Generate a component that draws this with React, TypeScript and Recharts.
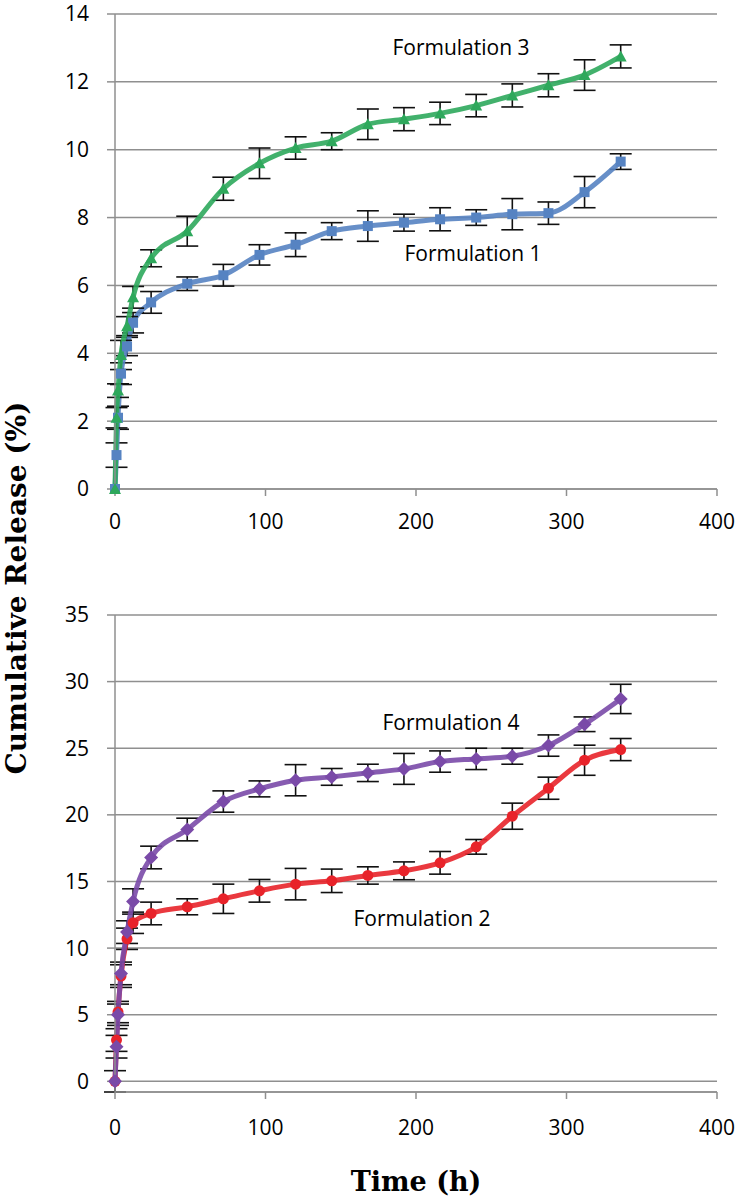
import React from "react";
import { LineChart, Line, XAxis, YAxis, CartesianGrid, ErrorBar } from "recharts";

const times = [0, 1, 2, 4, 8, 12, 24, 48, 72, 96, 120, 144, 168, 192, 216, 240, 264, 288, 312, 336];

const f1 = [0, 1.0, 2.1, 3.4, 4.2, 4.9, 5.5, 6.05, 6.3, 6.9, 7.2, 7.6, 7.75, 7.85, 7.95, 8.0, 8.1, 8.13, 8.75, 9.65];
const f1Err = [0, 0.36, 0.34, 0.32, 0.27, 0.3, 0.32, 0.2, 0.32, 0.3, 0.35, 0.25, 0.45, 0.25, 0.34, 0.23, 0.46, 0.33, 0.46, 0.23];
const f3 = [0, 2.1, 2.9, 3.95, 4.8, 5.65, 6.8, 7.6, 8.85, 9.6, 10.05, 10.25, 10.75, 10.9, 11.07, 11.3, 11.6, 11.9, 12.2, 12.75];
const f3Err = [0, 0.3, 0.2, 0.43, 0.28, 0.32, 0.25, 0.44, 0.34, 0.45, 0.33, 0.25, 0.45, 0.34, 0.33, 0.33, 0.34, 0.34, 0.45, 0.34];

const f2 = [0, 3.1, 5.2, 7.9, 10.7, 11.9, 12.6, 13.1, 13.7, 14.3, 14.8, 15.05, 15.45, 15.8, 16.4, 17.6, 19.9, 22.0, 24.1, 24.9];
const f2Err = [0, 0.85, 0.8, 0.85, 0.8, 0.8, 0.85, 0.6, 1.1, 0.85, 1.18, 0.88, 0.65, 0.67, 0.85, 0.55, 0.98, 0.83, 1.13, 0.83];
const f4 = [0, 2.6, 5.0, 8.1, 11.2, 13.5, 16.8, 18.9, 21.0, 21.95, 22.6, 22.85, 23.15, 23.45, 24.0, 24.2, 24.4, 25.2, 26.8, 28.7];
const f4Err = [0.8, 0.85, 0.8, 0.85, 0.85, 0.95, 0.85, 0.85, 0.8, 0.6, 1.17, 0.63, 0.65, 1.16, 0.8, 0.8, 0.6, 0.8, 0.55, 1.1];

const xTicks = [0, 100, 200, 300, 400];
const topYTicks = [0, 2, 4, 6, 8, 10, 12, 14];
const bottomYTicks = [0, 5, 10, 15, 20, 25, 30, 35];

const yTitle = "Cumulative Release (%)";
const xTitle = "Time (h)";
const labelF1 = "Formulation 1";
const labelF2 = "Formulation 2";
const labelF3 = "Formulation 3";
const labelF4 = "Formulation 4";

const topData = times.map((t, i) => ({ t, f1: f1[i], f1Err: f1Err[i], f3: f3[i], f3Err: f3Err[i] }));
const bottomData = times.map((t, i) => ({ t, f2: f2[i], f2Err: f2Err[i], f4: f4[i], f4Err: f4Err[i] }));

const BLUE = "#5683c2";
const GREEN = "#2ea85c";
const RED = "#e8232a";
const PURPLE = "#7a4aa8";
const GRID = "#8f8f8f";

const tickStyle = { fontFamily: "'Open Sans', sans-serif", fontSize: 21, fill: "#000" };

const squareDot = (color: string) => (p: any) => (
  <rect key={`s-${p.index}`} x={p.cx - 5} y={p.cy - 5} width={10} height={10} fill={color} />
);
const triDot = (color: string) => (p: any) => (
  <polygon key={`t-${p.index}`} points={`${p.cx},${p.cy - 6} ${p.cx + 6},${p.cy + 5} ${p.cx - 6},${p.cy + 5}`} fill={color} />
);
const circleDot = (color: string) => (p: any) => (
  <circle key={`c-${p.index}`} cx={p.cx} cy={p.cy} r={5.5} fill={color} />
);
const diamondDot = (color: string) => (p: any) => (
  <polygon key={`d-${p.index}`} points={`${p.cx},${p.cy - 7} ${p.cx + 7},${p.cy} ${p.cx},${p.cy + 7} ${p.cx - 7},${p.cy}`} fill={color} />
);

const Panel = ({ data, yTicks, yMax, series, margin, height, xMargin }: any) => (
  <LineChart width={742} height={height} data={data} margin={margin}>
    <CartesianGrid vertical={false} stroke={GRID} strokeWidth={1.5} />
    <XAxis
      dataKey="t"
      type="number"
      domain={[0, 400]}
      ticks={xTicks}
      height={40}
      tick={tickStyle}
      tickSize={7}
      tickMargin={xMargin}
      axisLine={{ stroke: GRID, strokeWidth: 1.5 }}
      tickLine={{ stroke: GRID, strokeWidth: 1.5 }}
    />
    <YAxis
      type="number"
      domain={[0, yMax]}
      ticks={yTicks}
      width={115}
      tick={tickStyle}
      tickSize={8}
      tickMargin={18}
      axisLine={{ stroke: GRID, strokeWidth: 1.5 }}
      tickLine={{ stroke: GRID, strokeWidth: 1.5 }}
      interval={0}
    />
    {series.map((s: any) => (
      <Line
        key={s.key}
        dataKey={s.key}
        type="monotone"
        stroke={s.color}
        strokeWidth={5}
        strokeOpacity={0.9}
        dot={s.dot}
        activeDot={false}
        isAnimationActive={false}
      >
        <ErrorBar dataKey={s.err} width={11} stroke="#111" strokeWidth={1.6} direction="y" />
      </Line>
    ))}
  </LineChart>
);

export default function App() {
  return (
    <div style={{ position: "absolute", left: 0, top: 0, width: 742, height: 1198, background: "#fff" }}>
      <div style={{ position: "absolute", left: 0, top: 0 }}>
        <Panel
          data={topData}
          yTicks={topYTicks}
          yMax={14}
          height={545}
          xMargin={18}
          margin={{ top: 14, right: 25, left: 0, bottom: 16 }}
          series={[
            { key: "f1", err: "f1Err", color: BLUE, dot: squareDot(BLUE) },
            { key: "f3", err: "f3Err", color: GREEN, dot: triDot(GREEN) },
          ]}
        />
      </div>
      <div style={{ position: "absolute", left: 0, top: 560 }}>
        <Panel
          data={bottomData}
          yTicks={bottomYTicks}
          yMax={35}
          height={590}
          xMargin={21}
          margin={{ top: 55, right: 25, left: 0, bottom: 18 }}
          series={[
            { key: "f2", err: "f2Err", color: RED, dot: circleDot(RED) },
            { key: "f4", err: "f4Err", color: PURPLE, dot: diamondDot(PURPLE) },
          ]}
        />
      </div>
      <svg width={742} height={1198} style={{ position: "absolute", left: 0, top: 0, pointerEvents: "none" }}>
        <g style={{ fontFamily: "'Open Sans', sans-serif", fontSize: 21 }} fill="#000">
          <text x={461} y={47} textAnchor="middle" dominantBaseline="central">{labelF3}</text>
          <text x={473} y={253} textAnchor="middle" dominantBaseline="central">{labelF1}</text>
          <text x={451} y={722} textAnchor="middle" dominantBaseline="central">{labelF4}</text>
          <text x={422} y={918} textAnchor="middle" dominantBaseline="central">{labelF2}</text>
        </g>
        <text
          x={16}
          y={588}
          transform="rotate(-90 16 588)"
          textAnchor="middle"
          dominantBaseline="central"
          style={{ fontFamily: "'DejaVu Serif', serif", fontWeight: "bold", fontSize: 28 }}
          fill="#000"
        >
          {yTitle}
        </text>
        <text
          x={416}
          y={1181}
          textAnchor="middle"
          dominantBaseline="central"
          style={{ fontFamily: "'DejaVu Serif', serif", fontWeight: "bold", fontSize: 27 }}
          fill="#000"
        >
          {xTitle}
        </text>
      </svg>
    </div>
  );
}
